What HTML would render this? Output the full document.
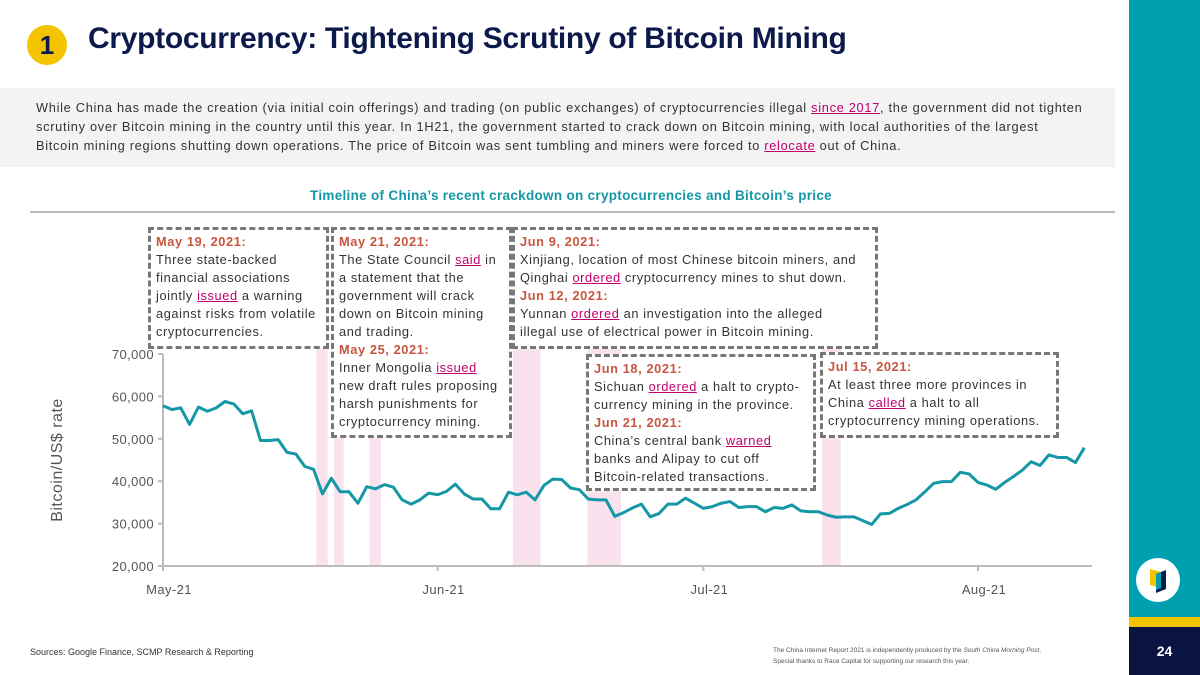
<!DOCTYPE html>
<html><head><meta charset="utf-8">
<style>
body{margin:0;width:1200px;height:675px;overflow:hidden;background:#fff;font-family:"Liberation Sans",sans-serif;position:relative}
.abs{position:absolute}
.desc{left:0;top:88px;width:1115px;height:79px;background:#f3f3f3}
.desc p{margin:0;position:absolute;left:36px;top:10px;white-space:nowrap;font-size:12.8px;line-height:19px;color:#333;letter-spacing:0.7px}
.lk{color:#c0006f;text-decoration:underline}
.box{position:absolute;border:3px dashed #777;background:#fff;box-sizing:border-box;padding:3px 5px;font-size:12.8px;line-height:18px;color:#333;letter-spacing:0.6px;white-space:nowrap;overflow:hidden}
.box b{color:#c8553d}
</style></head><body>
<div class="abs" style="left:27px;top:25px;width:40px;height:40px;border-radius:50%;background:#f5c400;color:#0b1a4a;font-weight:bold;font-size:26px;text-align:center;line-height:40px">1</div>
<div class="abs" style="left:88px;top:22px;font-size:30px;font-weight:bold;color:#0b1a4a;letter-spacing:-0.3px">Cryptocurrency: Tightening Scrutiny of Bitcoin Mining</div>
<div class="abs" style="left:1129px;top:0;width:71px;height:617px;background:#00a0b0"></div>
<div class="abs" style="left:1129px;top:617px;width:71px;height:10px;background:#f5c400"></div>
<div class="abs" style="left:1129px;top:627px;width:71px;height:48px;background:#0b1440;color:#fff;font-weight:bold;font-size:14px;text-align:center;line-height:48px">24</div>
<div class="abs" style="left:1136px;top:558px;width:44px;height:44px;border-radius:50%;background:#fff">
<svg width="44" height="44"><polygon points="14,11 25,14 25,30 14,27" fill="#f5c400"/><polygon points="20,16 30,12 30,31 20,35" fill="#0b1a4a"/><polygon points="20,16 25,14 25,30 20,32" fill="#00a0b0"/></svg></div>
<div class="abs desc"><p>While China has made the creation (via initial coin offerings) and trading (on public exchanges) of cryptocurrencies illegal <span class="lk">since 2017</span>, the government did not tighten<br>scrutiny over Bitcoin mining in the country until this year. In 1H21, the government started to crack down on Bitcoin mining, with local authorities of the largest<br>Bitcoin mining regions shutting down operations. The price of Bitcoin was sent tumbling and miners were forced to <span class="lk">relocate</span> out of China.</p></div>
<div class="abs" style="left:0;width:1142px;top:188px;text-align:center;font-size:13.5px;font-weight:bold;color:#1597a6;letter-spacing:0.3px">Timeline of China’s recent crackdown on cryptocurrencies and Bitcoin’s price</div>
<div class="abs" style="left:30px;top:211px;width:1085px;height:2px;background:#bbb"></div>
<svg class="abs" style="left:0;top:0" width="1200" height="675" id="chart"></svg>
<div class="box" style="left:148px;top:227px;width:181px;height:122px"><b>May 19, 2021:</b><br>Three state-backed<br>financial associations<br>jointly <span class="lk">issued</span> a warning<br>against risks from volatile<br>cryptocurrencies.</div>
<div class="box" style="left:331px;top:227px;width:181px;height:211px"><b>May 21, 2021:</b><br>The State Council <span class="lk">said</span> in<br>a statement that the<br>government will crack<br>down on Bitcoin mining<br>and trading.<br><b>May 25, 2021:</b><br>Inner Mongolia <span class="lk">issued</span><br>new draft rules proposing<br>harsh punishments for<br>cryptocurrency mining.</div>
<div class="box" style="left:512px;top:227px;width:366px;height:122px"><b>Jun 9, 2021:</b><br>Xinjiang, location of most Chinese bitcoin miners, and<br>Qinghai <span class="lk">ordered</span> cryptocurrency mines to shut down.<br><b>Jun 12, 2021:</b><br>Yunnan <span class="lk">ordered</span> an investigation into the alleged<br>illegal use of electrical power in Bitcoin mining.</div>
<div class="box" style="left:586px;top:354px;width:230px;height:137px"><b>Jun 18, 2021:</b><br>Sichuan <span class="lk">ordered</span> a halt to crypto-<br>currency mining in the province.<br><b>Jun 21, 2021:</b><br>China’s central bank <span class="lk">warned</span><br>banks and Alipay to cut off<br>Bitcoin-related transactions.</div>
<div class="box" style="left:820px;top:352px;width:239px;height:86px"><b>Jul 15, 2021:</b><br>At least three more provinces in<br>China <span class="lk">called</span> a halt to all<br>cryptocurrency mining operations.</div>
<div class="abs" style="left:30px;top:647px;font-size:9px;color:#333">Sources: Google Finance, SCMP Research &amp; Reporting</div>
<div class="abs" style="left:773px;top:645px;font-size:6.5px;line-height:11px;color:#555">The China Internet Report 2021 is independently produced by the <i>South China Morning Post</i>.<br>Special thanks to Race Capital for supporting our research this year.</div>
<script>
const prices=[57.8,56.9,57.3,53.4,57.5,56.5,57.3,58.8,58.2,55.9,56.6,49.6,49.6,49.8,46.8,46.4,43.5,42.8,37.0,40.7,37.5,37.5,34.8,38.7,38.2,39.2,38.6,35.6,34.6,35.6,37.2,36.8,37.6,39.3,37.0,35.8,35.8,33.5,33.5,37.4,36.8,37.4,35.6,39.0,40.5,40.4,38.4,38.0,35.8,35.6,35.6,31.7,32.6,33.7,34.6,31.6,32.4,34.6,34.6,36.0,34.8,33.6,34.0,34.8,35.2,33.8,34.0,34.0,32.8,33.8,33.6,34.4,33.0,32.8,32.8,32.0,31.5,31.6,31.6,30.7,29.8,32.3,32.4,33.6,34.5,35.6,37.5,39.5,39.9,39.9,42.1,41.7,39.7,39.1,38.1,39.7,41.1,42.6,44.6,43.7,46.2,45.6,45.6,44.4,47.9];
const bandStart=[17.3,19.3,23.3,39.5,47.9,74.4];
const bandEnd=[18.6,20.4,24.6,42.6,51.7,76.5];
const yTicks=[20000,30000,40000,50000,60000,70000];
const xTickDays=[0,31,61,92];
const xTickLabels=["May-21","Jun-21","Jul-21","Aug-21"];
const NS="http://www.w3.org/2000/svg";
const svg=document.getElementById('chart');
const x=d=>163+d*(978-163)/92;
const y=v=>566-(v-20000)*(566-354)/50000;
function mk(t,a){const e=document.createElementNS(NS,t);for(const k in a)e.setAttribute(k,a[k]);svg.appendChild(e);return e;}
bandStart.forEach((s,i)=>{const r=mk('rect',{x:x(s),y:348,width:x(bandEnd[i])-x(s),height:566-348,fill:'#f9e1ee'});

});
const ya=mk('line',{x1:163,y1:354,x2:163,y2:566,stroke:'#bbb','stroke-width':2});


const xa=mk('line',{x1:163,y1:566,x2:1092,y2:566,stroke:'#bbb','stroke-width':2});


yTicks.forEach(v=>{mk('line',{x1:158,y1:y(v),x2:163,y2:y(v),stroke:'#bbb','stroke-width':2});
const t=mk('text',{x:154,y:y(v)+5,'text-anchor':'end','font-size':13,fill:'#555','letter-spacing':0.4});t.textContent=v.toLocaleString('en-US');

});
xTickDays.forEach((d,i)=>{mk('line',{x1:x(d),y1:566,x2:x(d),y2:571,stroke:'#bbb','stroke-width':2});
const t=mk('text',{x:x(d)+6,y:594,'text-anchor':'middle','font-size':13,fill:'#555','letter-spacing':0.4});t.textContent=xTickLabels[i];

});
const yt=mk('text',{x:0,y:0,transform:'translate(62,460) rotate(-90)','text-anchor':'middle','font-size':16,fill:'#555','letter-spacing':0.5});yt.textContent='Bitcoin/US$ rate';


const pl=mk('polyline',{points:prices.map((p,i)=>x(i)+','+y(p*1000)).join(' '),fill:'none',stroke:'#1597a6','stroke-width':3,'stroke-linejoin':'round'});


</script>
</body></html>
